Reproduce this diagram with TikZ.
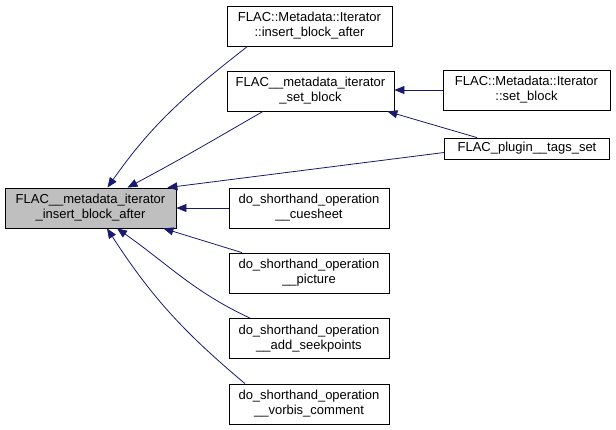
\documentclass[tikz,border=0pt]{standalone}
\usepackage{fontspec}
\setmainfont{Liberation Sans}
\usetikzlibrary{arrows.meta}
\definecolor{edgeblue}{HTML}{191970}
\definecolor{maingray}{HTML}{BFBFBF}

\begin{document}
\begin{tikzpicture}[x=1pt, y=-1pt,
  fnbox/.style={draw=black, line width=0.8pt, fill=white, inner sep=0pt,
    align=center, font=\fontsize{13}{15}\selectfont,
    minimum width=165pt, minimum height=40pt},
  calls/.style={draw=edgeblue, line width=0.8pt,
    -{Triangle[length=10pt, width=8pt]}}]

  \useasboundingbox (0,0) rectangle (616,429);

  % === Function being called ===
  \node[fnbox, fill=maingray, minimum width=171pt] (main) at (90.5, 208)
    {FLAC\_\_metadata\_iterator\\\_insert\_block\_after};

  % === Direct callers ===
  \node[fnbox] (iba) at (309.5, 26)
    {FLAC::Metadata::Iterator\\::insert\_block\_after};
  \node[fnbox, minimum width=167pt] (setblock) at (310.5, 91)
    {FLAC\_\_metadata\_iterator\\\_set\_block};
  \node[fnbox, minimum width=160pt] (cuesheet) at (309, 208)
    {do\_shorthand\_operation\\\_\_cuesheet};
  \node[fnbox, minimum width=160pt] (picture) at (309, 273)
    {do\_shorthand\_operation\\\_\_picture};
  \node[fnbox, minimum width=160pt] (seekpoints) at (309, 338.5)
    {do\_shorthand\_operation\\\_\_add\_seekpoints};
  \node[fnbox, minimum width=160pt] (vorbis) at (309, 404)
    {do\_shorthand\_operation\\\_\_vorbis\_comment};

  % === Callers of the set_block wrapper ===
  \node[fnbox, minimum width=167pt] (msetblock) at (526.5, 90)
    {FLAC::Metadata::Iterator\\::set\_block};
  \node[fnbox, minimum width=165pt, minimum height=21pt] (tags) at (527, 148.5)
    {FLAC\_plugin\_\_tags\_set};

  % === Edges into main ===
  \draw[calls] ([xshift=-62pt]iba.south) to[out=218, in=55] ([xshift=17pt]main.north);
  \draw[calls] ([xshift=-47.5pt]setblock.south) to[out=210, in=28] ([xshift=37pt]main.north);
  \draw[calls] ([yshift=-4pt]tags.west) -- ([xshift=-9pt]main.north east);
  \draw[calls] (cuesheet.west) -- (main.east);
  \draw[calls] ([xshift=-67pt]picture.north) -- ([xshift=-13pt]main.south east);
  \draw[calls] ([xshift=-59pt]seekpoints.north) to[out=155, in=-35] ([xshift=26.5pt]main.south);
  \draw[calls] ([xshift=-64pt]vorbis.north) to[out=140, in=-57] ([xshift=16.5pt]main.south);

  % === Edges into set_block ===
  \draw[calls] (msetblock.west) -- (msetblock.west -| setblock.east);
  \draw[calls] ([xshift=-50pt]tags.north) -- ([xshift=-7pt]setblock.south east);

\end{tikzpicture}
\end{document}
